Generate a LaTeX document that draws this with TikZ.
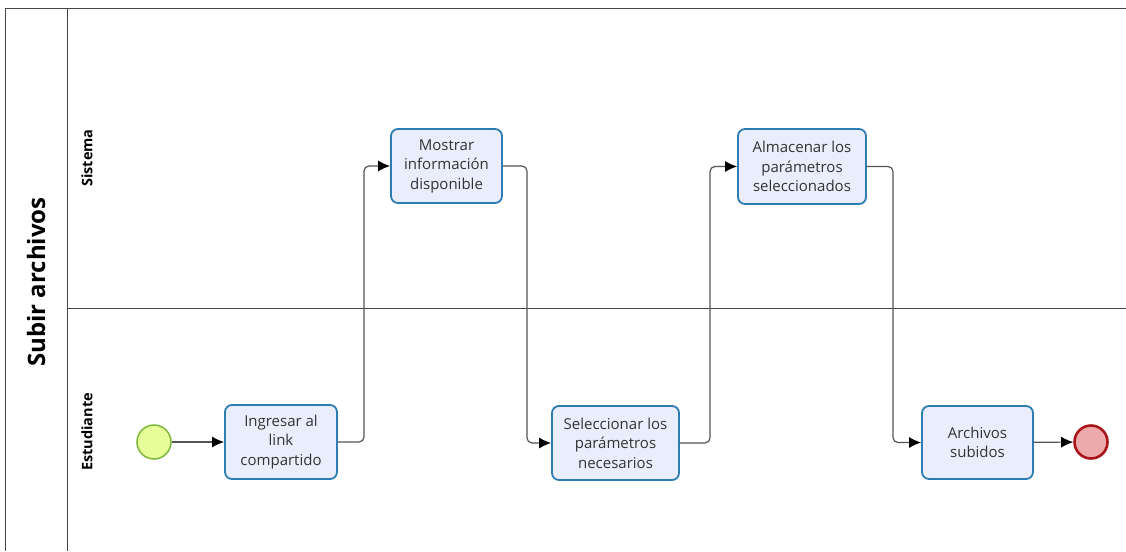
\documentclass[tikz,border=0pt]{standalone}
\usepackage{fontspec}
\setmainfont{Open Sans}
\usetikzlibrary{arrows.meta}
\definecolor{taskfill}{HTML}{EAEEFC}
\definecolor{taskdraw}{HTML}{2E7DB2}
\definecolor{startfill}{HTML}{E6FF99}
\definecolor{startdraw}{HTML}{7DB83A}
\definecolor{endfill}{HTML}{EEA9AA}
\definecolor{enddraw}{HTML}{A8161C}
\definecolor{linegray}{HTML}{555555}
\definecolor{poolgray}{HTML}{444444}
\tikzset{
  task/.style={draw=taskdraw, fill=taskfill, line width=1.8pt, rounded corners=7pt,
    align=center, font=\fontsize{15}{19.5}\selectfont, text=black!80,
    inner sep=0pt, anchor=center},
  startev/.style={circle, draw=startdraw, fill=startfill, line width=1.5pt, minimum size=34pt, inner sep=0pt},
  endev/.style={circle, draw=enddraw, fill=endfill, line width=2.6pt, minimum size=33pt, inner sep=0pt},
  flow/.style={draw=linegray, line width=1.2pt, rounded corners=5pt, -{Latex[length=12pt,width=11pt,black]}},
  poolline/.style={draw=poolgray, line width=0.9pt},
}
\begin{document}
\begin{tikzpicture}[x=1pt,y=-1pt]
\useasboundingbox (0,0) rectangle (1126,551);
\fill[white] (0,0) rectangle (1126,551);
% pool lines
\draw[poolline] (5,551) -- (5,8) -- (1126,8);
\draw[poolline] (67,8) -- (67,551);
\draw[poolline] (67,308) -- (1126,308);
\node[rotate=90, font=\bfseries\fontsize{24}{28}\selectfont] (pool) at (36,282) {Subir archivos};
\node[rotate=90, font=\bfseries\fontsize{14.5}{17}\selectfont] (lsis) at (87,158) {Sistema};
\node[rotate=90, font=\bfseries\fontsize{14.5}{17}\selectfont] (lest) at (87,432) {Estudiante};
% nodes
\node[startev] (start) at (154,442) {};
\node[task, minimum width=112pt, minimum height=74pt] (t1) at (281,442) {Ingresar al\\link\\compartido};
\node[task, minimum width=111pt, minimum height=74pt] (t2) at (446.5,166) {Mostrar\\información\\disponible};
\node[task, minimum width=127pt, minimum height=74pt] (t3) at (615.5,443) {Seleccionar los\\parámetros\\necesarios};
\node[task, minimum width=128pt, minimum height=75pt] (t4) at (802,166.5) {Almacenar los\\parámetros\\seleccionados};
\node[task, minimum width=111pt, minimum height=73pt] (t5) at (977.5,442.5) {Archivos\\subidos};
\node[endev] (end) at (1091,442) {};
% flows
\draw[flow] (start) -- (t1);
\draw[flow] (t1.east) -- (364,442) -- (364,166) -- (t2.west);
\draw[flow] (t2.east) -- (527,166) -- (527,443) -- (t3.west);
\draw[flow] (t3.east) -- (710,443) -- (710,166.5) -- (t4.west);
\draw[flow] (t4.east) -- (893,166.5) -- (893,442.5) -- (t5.west);
\draw[flow] (t5) -- (end);
\end{tikzpicture}
\end{document}
